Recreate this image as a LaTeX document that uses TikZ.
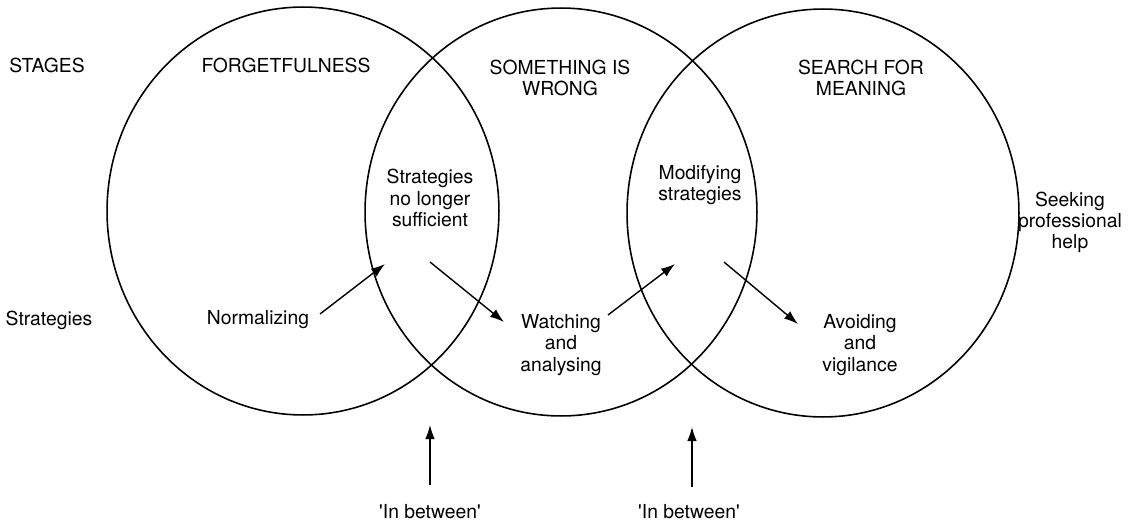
\documentclass[tikz,border=0pt]{standalone}
\usepackage{fontspec}
\setmainfont{TeX Gyre Heros}
\usetikzlibrary{arrows.meta}
\begin{document}
\begin{tikzpicture}[x=0.02cm, y=-0.02cm,
  lbl/.style={font=\fontsize{11}{12}\selectfont, align=center, inner sep=0pt},
  ring/.style={line width=0.9pt},
  flow/.style={line width=0.8pt, -{Latex[length=8pt,width=5.5pt]}}]
\useasboundingbox (0,0) rectangle (1134,524);

% the three stage circles
\draw[ring] (303,211) ellipse [x radius=3.92cm, y radius=4.08cm];
\draw[ring] (561,212) ellipse [x radius=3.92cm, y radius=4.08cm];
\draw[ring] (823,213) ellipse [x radius=3.92cm, y radius=4.08cm];

% row headings
\node[lbl] (stages) at (47,65)  {STAGES};
\node[lbl] (strat)  at (49,320) {Strategies};

% stage titles
\node[lbl] (forget) at (286,65) {FORGETFULNESS};
\node[lbl] (wrong)  at (560,78) {SOMETHING IS\\WRONG};
\node[lbl] (search) at (861,78) {SEARCH FOR\\MEANING};

% strategies
\node[lbl] (snl)    at (430,198)  {Strategies\\no longer\\sufficient};
\node[lbl] (modify) at (700,185)  {Modifying\\strategies};
\node[lbl] (seek)   at (1070,222) {Seeking\\professional\\help};
\node[lbl] (norm)   at (258,320)  {Normalizing};
\node[lbl] (watch)  at (561,345)  {Watching\\and\\analysing};
\node[lbl] (avoid)  at (860,345)  {Avoiding\\and\\vigilance};

% transitions between strategies
\draw[flow] ([shift={(62,-6)}]norm.center)   -- ([shift={(-45,66)}]snl.center);
\draw[flow] ([shift={(0,64)}]snl.center)     -- ([shift={(-57,-23)}]watch.center);
\draw[flow] ([shift={(47,-30)}]watch.center) -- ([shift={(-25,79)}]modify.center);
\draw[flow] ([shift={(24,77)}]modify.center) -- ([shift={(-62,-21)}]avoid.center);

% transitional phases
\node[lbl] (ib1) at (430,512) {\textquotesingle In between\textquotesingle};
\node[lbl] (ib2) at (689,512) {\textquotesingle In between\textquotesingle};
\draw[flow] ([shift={(0,-27)}]ib1.center) -- ([shift={(0,-87)}]ib1.center);
\draw[flow] ([shift={(3,-25)}]ib2.center) -- ([shift={(3,-85)}]ib2.center);
\end{tikzpicture}
\end{document}
